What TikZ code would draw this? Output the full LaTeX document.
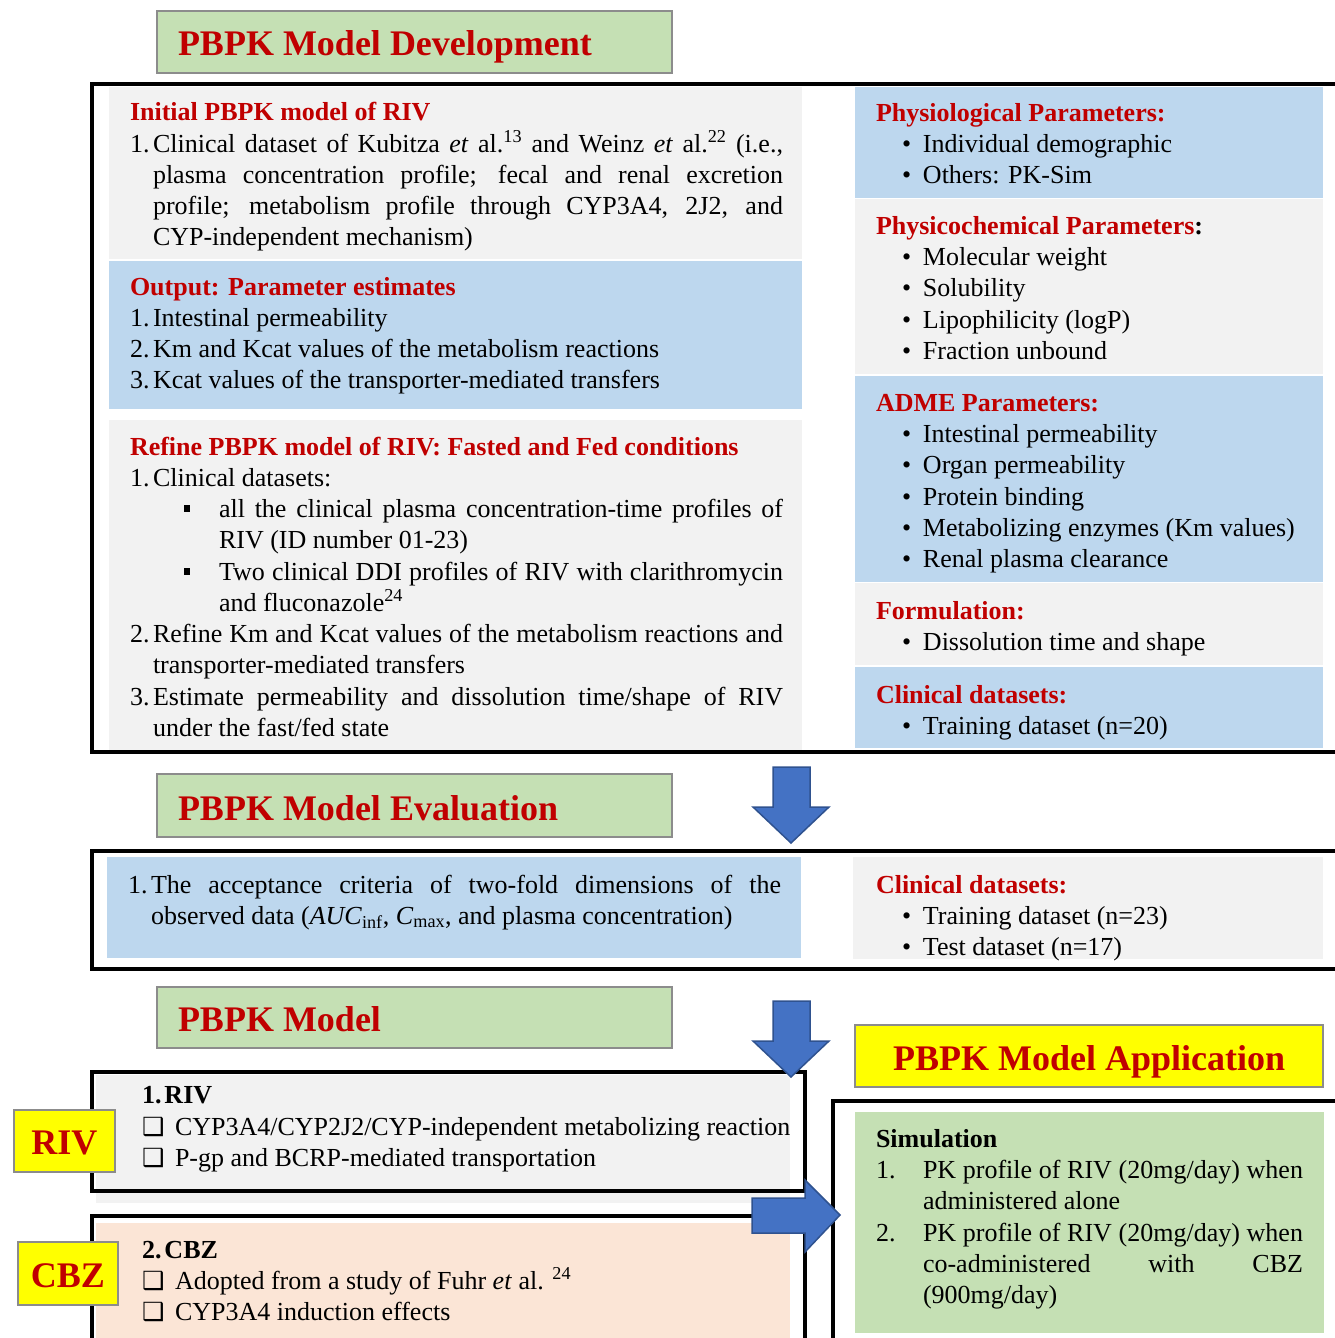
\documentclass[tikz,border=0pt]{standalone}
\usepackage{fontspec}
\setmainfont{Liberation Serif}
\newfontfamily\djv{DejaVu Sans}
\definecolor{redT}{HTML}{C00000}
\definecolor{grayP}{HTML}{F2F2F2}
\definecolor{blueP}{HTML}{BDD7EE}
\definecolor{greenP}{HTML}{C5E0B4}
\definecolor{peachP}{HTML}{FBE5D6}
\definecolor{yellowP}{HTML}{FFFF00}
\definecolor{boxgray}{HTML}{8C8C8C}
\definecolor{arrowF}{HTML}{4472C4}
\definecolor{arrowE}{HTML}{2F528F}
\newcommand\rs{\spaceskip=0pt\xspaceskip=0pt\relax}
\newcommand\jst[2]{{\rs\makebox[#1][s]{#2}}}
\newcommand\qb{{\djv\fontsize{25}{31}\selectfont ❑}}
\newcommand\sq{\rule[5pt]{6pt}{7pt}}
\newcommand\bul{\makebox[21pt][l]{\textbullet}}
\begin{document}
\begin{tikzpicture}[x=1pt,y=-1pt,
  txt/.style={font=\fontsize{26}{31}\selectfont, inner sep=0pt, outer sep=0pt, anchor=base west},
  hd/.style={txt, font=\fontsize{26}{31}\selectfont\bfseries, text=redT},
  bhd/.style={txt, font=\fontsize{26}{31}\selectfont\bfseries},
  para/.style={txt, align=left},
  ttl/.style={font=\fontsize{36}{43}\selectfont\bfseries, text=redT, inner sep=0pt, outer sep=0pt, anchor=base west},
  tbox/.style={draw=boxgray, line width=2pt, fill=greenP},
  ybox/.style={draw=boxgray, line width=2pt, fill=yellowP},
  frame/.style={draw=black, line width=4pt},
  barrow/.style={fill=arrowF, draw=arrowE, line width=1.5pt, line join=miter}]
\useasboundingbox (0,0) rectangle (1335,1338);
\clip (0,0) rectangle (1335,1338);

% ---------- Development ----------
\path[tbox] (157,11) rectangle (672,73);
\node[ttl] (t1) at (178,56) {PBPK Model Development};

\fill[grayP] (109,87) rectangle (802,259);
\fill[blueP] (109,261) rectangle (802,409);
\fill[grayP] (109,420) rectangle (802,750);
\fill[blueP] (855,87) rectangle (1323,198);
\fill[grayP] (855,199) rectangle (1323,374);
\fill[blueP] (855,376) rectangle (1323,582);
\fill[grayP] (855,583) rectangle (1323,665);
\fill[blueP] (855,667) rectangle (1323,748);
\draw[frame] (1345,84) -- (91.5,84) -- (91.5,752) -- (1345,752);

\node[hd] (h1) at (130,120) {Initial PBPK model of RIV};
\node[txt] (n11) at (130,152) {1.};
\node[para, text width=640pt] (p11) at (153,152) {\rs\jst{630pt}{Clinical dataset of Kubitza \textit{et} al.\textsuperscript{13} and Weinz \textit{et} al.\textsuperscript{22} (i.e.,}\\
\jst{630pt}{plasma concentration profile; fecal and renal excretion}\\
\jst{630pt}{profile; metabolism profile through CYP3A4, 2J2, and}\\
CYP-independent mechanism)};

\node[hd] (h2) at (130,295) {Output: Parameter estimates};
\node[txt] (n21) at (130,326) {1.};
\node[txt] (p21) at (153,326) {Intestinal permeability};
\node[txt] (n22) at (130,357) {2.};
\node[txt] (p22) at (153,357) {Km and Kcat values of the metabolism reactions};
\node[txt] (n23) at (130,388) {3.};
\node[txt] (p23) at (153,388) {Kcat values of the transporter-mediated transfers};

\node[hd] (h3) at (130,455) {Refine PBPK model of RIV: Fasted and Fed conditions};
\node[txt] (n31) at (130,486) {1.};
\node[txt] (p31) at (153,486) {Clinical datasets:};
\node[txt] (b31) at (184,517) {\sq};
\node[para, text width=574pt] (p31a) at (219,517) {\rs\jst{564pt}{all the clinical plasma concentration-time profiles of}\\ RIV (ID number 01-23)};
\node[txt] (b32) at (184,580) {\sq};
\node[para, text width=574pt] (p31b) at (219,580) {\rs\jst{564pt}{Two clinical DDI profiles of RIV with clarithromycin}\\ and fluconazole\textsuperscript{24}};
\node[txt] (n32) at (130,642) {2.};
\node[para, text width=640pt] (p32) at (153,642) {\rs\jst{630pt}{Refine Km and Kcat values of the metabolism reactions and}\\ transporter-mediated transfers};
\node[txt] (n33) at (130,705) {3.};
\node[para, text width=640pt] (p33) at (153,705) {\rs\jst{630pt}{Estimate permeability and dissolution time/shape of RIV}\\ under the fast/fed state};

\node[hd] (r1) at (876,121) {Physiological Parameters:};
\node[txt] (r11) at (902,152) {\bul Individual demographic};
\node[txt] (r12) at (902,183) {\bul Others: PK-Sim};
\node[hd] (r2) at (876,234) {Physicochemical Parameters\textcolor{black}{:}};
\node[txt] (r21) at (902,265) {\bul Molecular weight};
\node[txt] (r22) at (902,296) {\bul Solubility};
\node[txt] (r23) at (902,328) {\bul Lipophilicity (logP)};
\node[txt] (r24) at (902,359) {\bul Fraction unbound};
\node[hd] (r3) at (876,411) {ADME Parameters:};
\node[txt] (r31) at (902,442) {\bul Intestinal permeability};
\node[txt] (r32) at (902,473) {\bul Organ permeability};
\node[txt] (r33) at (902,505) {\bul Protein binding};
\node[txt] (r34) at (902,536) {\bul Metabolizing enzymes (Km values)};
\node[txt] (r35) at (902,567) {\bul Renal plasma clearance};
\node[hd] (r4) at (876,619) {Formulation:};
\node[txt] (r41) at (902,650) {\bul Dissolution time and shape};
\node[hd] (r5) at (876,703) {Clinical datasets:};
\node[txt] (r51) at (902,734) {\bul Training dataset (n=20)};

% ---------- Evaluation ----------
\path[tbox] (157,774) rectangle (672,837);
\node[ttl] (t2) at (178,820) {PBPK Model Evaluation};

\fill[blueP] (107,857) rectangle (801,958);
\fill[grayP] (853,857) rectangle (1323,959);
\draw[frame] (1345,851) -- (91.5,851) -- (91.5,969) -- (1345,969);

\node[txt] (e1n) at (128,893) {1.};
\node[para, text width=640pt] (e1) at (151,893) {\rs\jst{630pt}{The acceptance criteria of two-fold dimensions of the}\\ observed data (\textit{AUC}\textsubscript{inf}, \textit{C}\textsubscript{max}, and plasma concentration)};
\node[hd] (e2) at (876,893) {Clinical datasets:};
\node[txt] (e21) at (902,924) {\bul Training dataset (n=23)};
\node[txt] (e22) at (902,955) {\bul Test dataset (n=17)};

% ---------- PBPK Model ----------
\path[tbox] (157,987) rectangle (672,1048);
\node[ttl] (t3) at (178,1031) {PBPK Model};

\fill[grayP] (96,1075) rectangle (790,1203);
\draw[frame] (91.5,1072) rectangle (805,1191);
\node[bhd] (m1) at (142,1103) {1.\hspace{3pt}RIV};
\node[txt] (m11) at (142,1135) {\makebox[33pt][l]{\qb}CYP3A4/CYP2J2/CYP-independent metabolizing reaction};
\node[txt] (m12) at (142,1166) {\makebox[33pt][l]{\qb}P-gp and BCRP-mediated transportation};

\fill[peachP] (96,1223) rectangle (790,1345);
\draw[frame] (805,1345) -- (805,1216) -- (91.5,1216) -- (91.5,1345);
\node[bhd] (m2) at (142,1258) {2.\hspace{3pt}CBZ};
\node[txt] (m21) at (142,1289) {\makebox[33pt][l]{\qb}Adopted from a study of Fuhr \textit{et} al. \textsuperscript{24}};
\node[txt] (m22) at (142,1320) {\makebox[33pt][l]{\qb}CYP3A4 induction effects};

\path[ybox] (14,1110) rectangle (115,1172);
\node[ttl, anchor=base] (lriv) at (64.5,1154) {RIV};
\path[ybox] (18,1242) rectangle (118,1305);
\node[ttl, anchor=base] (lcbz) at (68,1287) {CBZ};

% ---------- Application ----------
\path[ybox] (855,1025) rectangle (1323,1087);
\node[ttl, anchor=base] (t4) at (1089,1070) {PBPK Model Application};
\fill[greenP] (855,1112) rectangle (1324,1333);
\draw[frame] (833,1345) -- (833,1101) -- (1345,1101);
\node[bhd] (s0) at (876,1147) {Simulation};
\node[txt] (s1n) at (876,1178) {1.};
\node[para, text width=400pt] (s1) at (923,1178) {\rs\jst{380pt}{PK profile of RIV (20mg/day) when}\\ administered alone};
\node[txt] (s2n) at (876,1241) {2.};
\node[para, text width=400pt] (s2) at (923,1241) {\rs\jst{380pt}{PK profile of RIV (20mg/day) when}\\ \jst{380pt}{co-administered with CBZ}\\ (900mg/day)};

% ---------- block arrows ----------
\draw[barrow] (773,767) -- (810,767) -- (810,807) -- (829,807) -- (791,843) -- (753,807) -- (773,807) -- cycle;
\draw[barrow] (773,1001) -- (810,1001) -- (810,1041) -- (829,1041) -- (791,1077) -- (753,1041) -- (773,1041) -- cycle;
\draw[barrow] (752,1198) -- (805,1198) -- (805,1180) -- (840,1215) -- (805,1252) -- (805,1233) -- (752,1233) -- cycle;
\end{tikzpicture}
\end{document}
